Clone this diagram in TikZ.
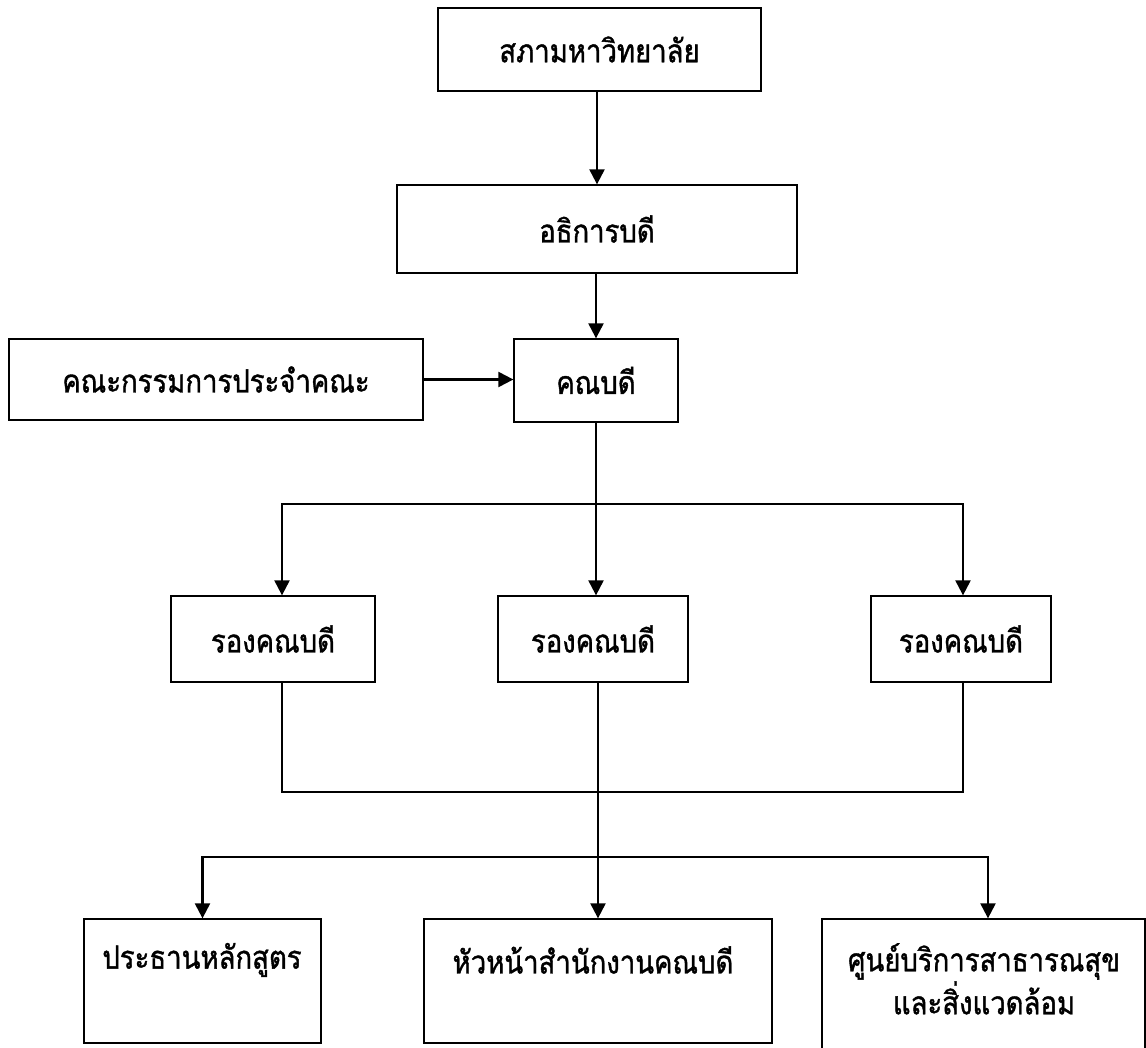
\documentclass[tikz,border=0pt]{standalone}
\usepackage{fontspec}
\newfontfamily\thaifont[Script=Thai, FakeStretch=0.86, FakeBold=1.2]{Loma}
\usetikzlibrary{arrows.meta}
\begin{document}
\begin{tikzpicture}[x=1pt,y=-1pt,
  box/.style={draw, line width=1.3pt, rectangle, inner sep=0pt, font=\thaifont\fontsize{32}{36}\selectfont},
  txt/.style={inner sep=0pt, align=center, font=\thaifont\fontsize{32}{43}\selectfont},
  arr/.style={line width=2.2pt, -{Triangle[length=15pt,width=15pt]}},
  ln/.style={line width=1.3pt}]
\useasboundingbox[fill=white] (0,0) rectangle (1146,1048);
% boxes
\node[box, minimum width=323, minimum height=83] (A) at (599.5,49.5) {สภามหาวิทยาลัย};
\node[box, minimum width=400, minimum height=88] (B) at (597,229) {อธิการบดี};
\node[box, minimum width=414, minimum height=81] (C) at (216,379.5) {คณะกรรมการประจำคณะ};
\node[box, minimum width=164, minimum height=83] (D) at (596,380.5) {คณบดี};
\node[box, minimum width=204, minimum height=86] (vpL) at (273,639) {รองคณบดี};
\node[box, minimum width=190, minimum height=86] (vpM) at (593,639) {รองคณบดี};
\node[box, minimum width=180, minimum height=86] (vpR) at (961,639) {รองคณบดี};
\node[box, minimum width=237, minimum height=124] (bL) at (202.5,981) {};
\node[box, minimum width=348, minimum height=124] (bM) at (598,981) {};
\node[box, minimum width=323, minimum height=151] (bR) at (983.5,994.5) {};
\node[txt] (tL) at (202,960) {ประธานหลักสูตร};
\node[txt] (tM) at (593,960) {หัวหน้าสำนักงานคณบดี};
\node[txt, anchor=north] (tR) at (984,943) {ศูนย์บริการสาธารณสุข\\และสิ่งแวดล้อม};
% connectors
\draw[arr] (A.south -| B.north) -- (B.north);
\draw[arr] (B.south -| D.north) -- (D.north);
\draw[arr] (C.east) -- (C.east -| D.west);
\coordinate (j1) at (597,504);
\draw[arr] (D.south) -- (D.south |- vpM.north);
\draw[arr] (j1) -| ([xshift=9]vpL.north);
\draw[arr] (j1) -| ([xshift=2]vpR.north);
\coordinate (j2) at (598,792);
\coordinate (j3) at (598,857);
\draw[ln] ([xshift=9]vpL.south) |- (j2);
\draw[ln] ([xshift=2]vpR.south) |- (j2);
\draw[ln] (vpM.south -| bM.north) -- (j3);
\draw[arr] (j3) -- (bM.north);
\draw[arr] (j3) -| (bL.north);
\draw[arr] (j3) -| ([xshift=4.5]bR.north);
\end{tikzpicture}
\end{document}
